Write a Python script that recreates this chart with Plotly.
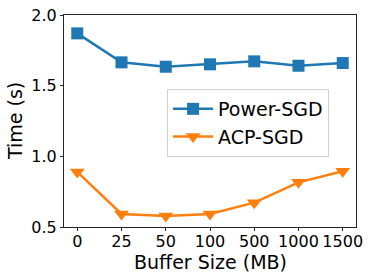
import plotly.graph_objects as go

buffer_sizes = ["0", "25", "50", "100", "500", "1000", "1500"]
power_sgd = [1.87, 1.665, 1.634, 1.651, 1.672, 1.641, 1.66]
acp_sgd = [0.89, 0.592, 0.578, 0.592, 0.672, 0.816, 0.895]
y_ticks = [0.5, 1.0, 1.5, 2.0]

blue = "#1f77b4"
orange = "#ff7f0e"
font = "DejaVu Sans"
axis_col = "#262626"

fig = go.Figure()
fig.add_trace(go.Scatter(x=buffer_sizes, y=power_sgd, name="Power-SGD", mode="lines+markers",
                         line=dict(color=blue, width=2.5),
                         marker=dict(symbol="square", size=12, color=blue)))
fig.add_trace(go.Scatter(x=buffer_sizes, y=acp_sgd, name="ACP-SGD", mode="lines+markers",
                         line=dict(color=orange, width=2.5),
                         marker=dict(symbol="triangle-down", size=13, color=orange)))

fig.update_layout(
    width=374, height=280,
    margin=dict(l=64, r=18, t=15, b=53, autoexpand=False),
    paper_bgcolor="white", plot_bgcolor="white",
    font=dict(family=font, color="black"),
    showlegend=True,
    legend=dict(x=0.353, y=0.651, xanchor="left", yanchor="top",
                bgcolor="rgba(255,255,255,0.8)", bordercolor="#d0d0d0", borderwidth=1,
                font=dict(size=19, family=font), tracegroupgap=0, itemwidth=40),
    xaxis=dict(type="category", range=[-0.3, 6.3], showgrid=False, automargin=False,
               showline=True, linecolor=axis_col, linewidth=1, mirror=True,
               ticks="outside", ticklen=3, tickcolor=axis_col, tickangle=0,
               ticklabelstandoff=-3,
               tickfont=dict(size=16, family=font)),
    yaxis=dict(range=[0.5, 2.0], tickvals=y_ticks, ticktext=[f"{v:.1f}" for v in y_ticks],
               showgrid=False, zeroline=False, automargin=False,
               showline=True, linecolor=axis_col, linewidth=1, mirror=True,
               ticks="outside", ticklen=3, tickcolor=axis_col,
               tickfont=dict(size=16, family=font)),
    annotations=[
        dict(text="Buffer Size (MB)", xref="paper", yref="paper", x=0.5, y=0,
             yshift=-35, xanchor="center", yanchor="middle", showarrow=False,
             font=dict(size=19, family=font)),
        dict(text="Time (s)", xref="paper", yref="paper", x=0, y=0.5,
             xshift=-49, xanchor="center", yanchor="middle", showarrow=False, textangle=-90,
             font=dict(size=19, family=font)),
    ],
)

fig.write_html("out.html", config={"displayModeBar": False},
               post_script="document.body.style.margin='0';")
